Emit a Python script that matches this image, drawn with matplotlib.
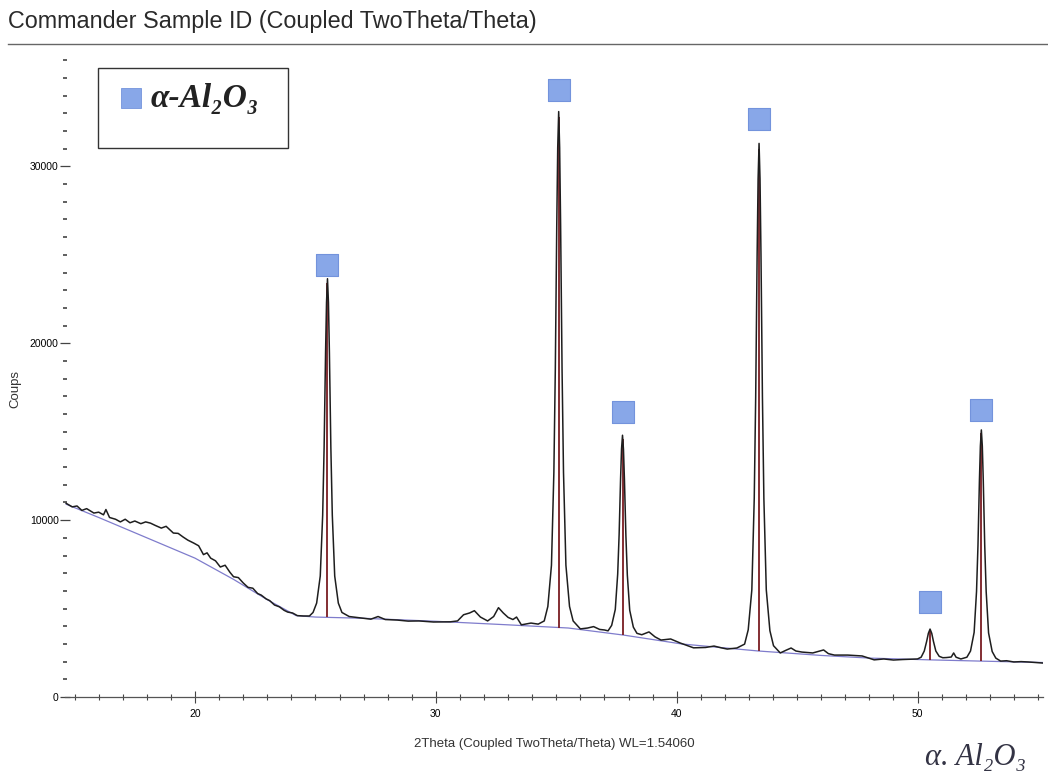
import numpy as np
import matplotlib
matplotlib.use("Agg")
import matplotlib.pyplot as plt
from matplotlib.ticker import MultipleLocator
from matplotlib.patches import Rectangle

plt.rcParams['font.family'] = ['Liberation Sans', 'DejaVu Sans']

two_theta = [14.65, 14.9, 15.1, 15.3, 15.5, 15.8, 16.0, 16.2, 16.3, 16.45, 16.7, 16.9, 17.1,
             17.3, 17.5, 17.75, 17.95, 18.15, 18.35, 18.6, 18.8, 19.1, 19.3, 19.5, 19.7,
             19.95, 20.15, 20.35, 20.5, 20.65, 20.85, 21.05, 21.25, 21.45, 21.6, 21.8,
             22.0, 22.2, 22.4, 22.6, 22.75, 22.95, 23.1, 23.3, 23.5, 23.7, 23.85, 24.05,
             24.25, 24.5, 24.75,
             24.9, 25.05, 25.2, 25.3, 25.36, 25.42, 25.46, 25.5, 25.54, 25.58, 25.64,
             25.7, 25.8, 25.95, 26.1,
             26.4, 26.9, 27.3, 27.6, 27.9, 28.4, 28.85, 29.3, 29.9, 30.6, 30.9,
             31.15, 31.4, 31.6, 31.85, 32.15, 32.4, 32.6, 32.8, 33.0, 33.2, 33.35, 33.55,
             33.95, 34.25,
             34.5, 34.65, 34.8, 34.9, 34.96, 35.02, 35.06, 35.1, 35.14, 35.18, 35.24,
             35.3, 35.4, 35.55, 35.7,
             36.0, 36.3, 36.55, 36.8, 37.0,
             37.15, 37.3, 37.45, 37.55, 37.61, 37.67, 37.71, 37.75, 37.79, 37.83, 37.89,
             37.95, 38.05, 38.2, 38.35,
             38.55, 38.85, 39.1, 39.35, 39.75, 40.15, 40.7, 41.2, 41.55, 41.85, 42.1,
             42.5,
             42.82, 42.97, 43.12, 43.22, 43.28, 43.34, 43.38, 43.42, 43.46, 43.5, 43.56,
             43.62, 43.72, 43.87, 44.02,
             44.3, 44.55, 44.75, 44.95, 45.2, 45.65, 45.95, 46.1, 46.3, 46.55,
             47.1, 47.7, 48.2, 48.6, 49.0, 49.4, 49.8,
             50.0, 50.15, 50.28, 50.38, 50.45, 50.52, 50.59, 50.66, 50.76, 50.9, 51.05,
             51.2, 51.4, 51.5, 51.6, 51.8,
             52.05, 52.2, 52.35, 52.45, 52.51, 52.57, 52.61, 52.65, 52.69, 52.73, 52.79,
             52.85, 52.95, 53.1, 53.25,
             53.45, 53.7, 54.0, 54.3, 54.6, 54.9, 55.2]
counts = [10950, 10750, 10800, 10550, 10650, 10400, 10450, 10300, 10600, 10150, 10050, 9900,
          10050, 9850, 9950, 9800, 9900, 9830, 9700, 9550, 9650, 9270, 9250, 9050, 8870,
          8700, 8550, 8050, 8150, 7850, 7700, 7350, 7450, 7050, 6800, 6750,
          6450, 6200, 6150, 5850, 5760, 5550, 5450, 5200, 5100, 4900, 4800, 4750,
          4600, 4580, 4580,
          4780, 5310, 6840, 10280, 14100, 19450, 22310, 23650, 22310, 19450, 14100,
          10280, 6840, 5310, 4780,
          4550, 4470, 4400, 4550, 4380, 4350, 4290, 4300, 4240, 4250, 4300,
          4650, 4750, 4880, 4520, 4300, 4550, 5050, 4750, 4500, 4380, 4520, 4080,
          4180, 4120,
          4300, 5120, 7450, 12700, 18520, 26690, 31060, 33100, 31060, 26690, 18520,
          12700, 7450, 5120, 4300,
          3850, 3900, 3980, 3820, 3790,
          3740, 4050, 4950, 6950, 9200, 12350, 14030, 14800, 14000, 12300, 9150,
          6900, 4900, 3950, 3600,
          3520, 3680, 3400, 3220, 3280, 3050, 2780, 2800, 2880, 2780, 2710,
          2770,
          2990, 3800, 6060, 11220, 16960, 24990, 29290, 31300, 29290, 24990, 16960,
          11220, 6060, 3750, 2900,
          2490, 2650, 2770, 2600, 2540, 2490, 2600, 2660, 2450, 2370,
          2370, 2320, 2100, 2150, 2090, 2120, 2140,
          2150, 2250, 2600, 3150, 3600, 3840, 3600, 3150, 2600, 2300, 2220,
          2230, 2260, 2490, 2250, 2150,
          2250, 2600, 3650, 5970, 8580, 12230, 14190, 15100, 14190, 12230, 8580,
          5970, 3620, 2570, 2200,
          2030, 2050, 1980, 2000, 1980, 1950, 1920]

# fitted background line
bg_x = [14.65, 16.0, 18.0, 20.0, 21.6, 23.0, 24.2, 25.0, 27.0, 30.0, 33.0, 35.5, 37.8,
        40.2, 43.4, 46.0, 48.0, 50.5, 52.6, 55.2]
bg_y = [10900, 10150, 9000, 7850, 6650, 5500, 4600, 4520, 4450, 4280, 4080, 3900, 3500,
        3000, 2600, 2350, 2200, 2100, 2030, 1950]

# alpha-Al2O3 peak positions, stick heights and marker heights
peak_pos = [25.5, 35.1, 37.75, 43.42, 50.52, 52.65]
peak_base = [4530, 3900, 3500, 2600, 2100, 2030]
peak_top = [23400, 32800, 14600, 31000, 3800, 14900]
marker_y = [24400, 34300, 16100, 32700, 5350, 16200]

sq_color = '#88a7e8'

fig = plt.figure(figsize=(10.48, 7.82), dpi=100)
ax = fig.add_axes([0.062, 0.1087, 0.933, 0.821])

ax.plot(bg_x, bg_y, color='#7f7ccc', lw=0.9, zorder=2)
ax.vlines(peak_pos, peak_base, peak_top, color='#7a1c22', lw=1.3, zorder=3)
ax.plot(two_theta, counts, color='#1e1e1e', lw=1.1, zorder=4)
ax.scatter(peak_pos, marker_y, marker='s', s=260, color=sq_color,
           edgecolor='#7393dc', lw=0.8, zorder=5)

ax.set_xlim(14.6, 55.2)
ax.set_ylim(0, 36300)
for s in ['top', 'right', 'left']:
    ax.spines[s].set_visible(False)
ax.spines['bottom'].set_color('#555555')
ax.spines['bottom'].set_linewidth(0.9)

ax.xaxis.set_major_locator(MultipleLocator(10))
ax.xaxis.set_minor_locator(MultipleLocator(1))
ax.yaxis.set_major_locator(MultipleLocator(10000))
ax.yaxis.set_minor_locator(MultipleLocator(1000))
ax.tick_params(axis='x', which='major', direction='inout', length=9, width=0.8,
               labelsize=7.5, color='#444444', pad=4)
ax.tick_params(axis='x', which='minor', direction='inout', length=5, width=0.8, color='#444444')
ax.tick_params(axis='y', which='major', direction='inout', length=7, width=0.9,
               labelsize=7.5, color='#444444', pad=1)
ax.tick_params(axis='y', which='minor', direction='inout', length=3, width=1.2, color='#444444')

ax.set_xlabel('2Theta (Coupled TwoTheta/Theta) WL=1.54060', fontsize=9.5, color='#333333', labelpad=14)
ax.set_ylabel('Coups', fontsize=9.5, color='#333333')
ax.yaxis.set_label_coords(-0.045, 0.48)

# header
fig.text(0.008, 0.972, 'Commander Sample ID (Coupled TwoTheta/Theta)', fontsize=16.8,
         color='#2a2a2a', va='center', ha='left')
fig.add_artist(plt.Line2D([0.008, 1.0], [0.9437, 0.9437], color='#666666', lw=1.0,
                          transform=fig.transFigure))

# legend box
fig.add_artist(Rectangle((0.0935, 0.8107), 0.1813, 0.1023, transform=fig.transFigure,
                         facecolor='white', edgecolor='#333333', lw=1.0))
fig.add_artist(Rectangle((0.1155, 0.862), 0.019, 0.0255, transform=fig.transFigure,
                         facecolor=sq_color, edgecolor='#7393dc', lw=0.6))
fig.text(0.144, 0.874, 'α-Al₂O₃', fontsize=24, style='italic', weight='bold', va='center',
         ha='left', color='#222222', family=['Liberation Serif', 'DejaVu Serif'])

# handwritten note
fig.text(0.883, 0.022, 'α. Al₂O₃', fontsize=22, style='italic', color='#333344',
         family=['Liberation Serif', 'DejaVu Serif'])

fig.savefig('out.png', dpi=100)
